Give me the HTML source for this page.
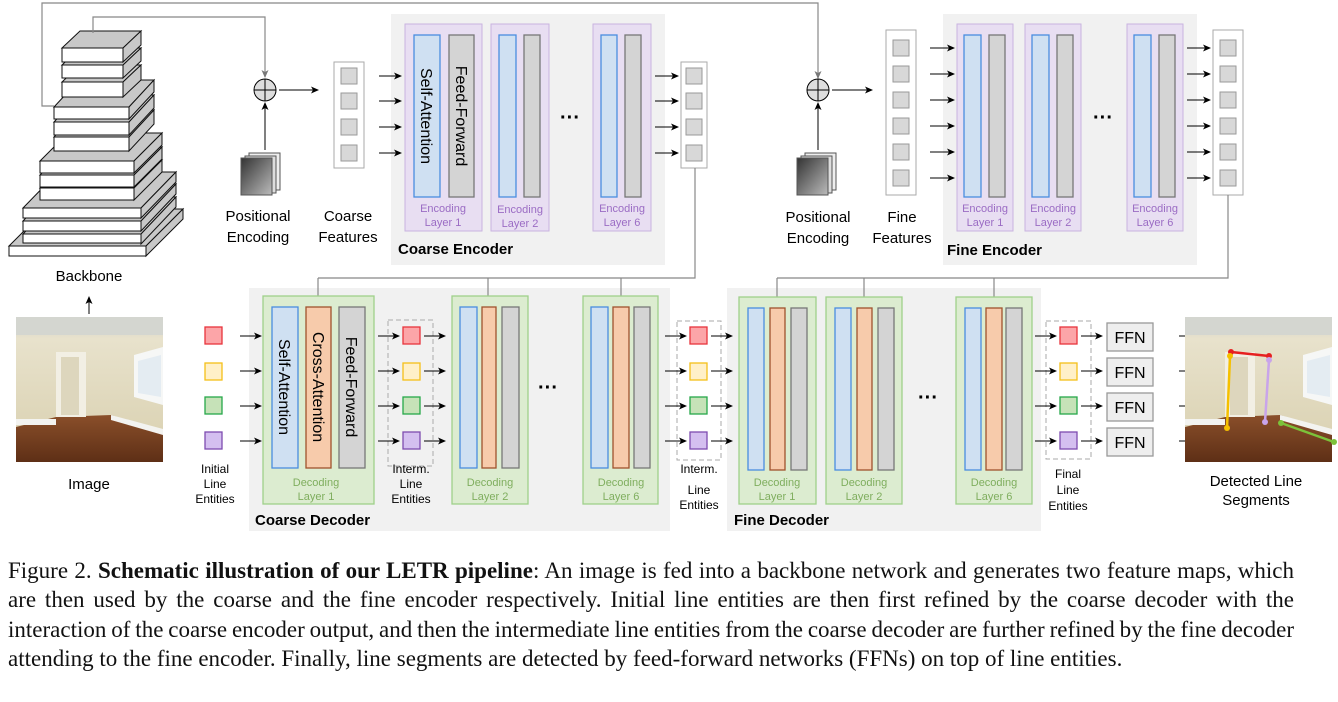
<!DOCTYPE html>
<html><head><meta charset="utf-8"><style>
body{margin:0;width:1338px;height:702px;background:#fff;overflow:hidden;position:relative;font-family:"Liberation Sans",sans-serif}
svg{position:absolute;left:0;top:0}
.cap{position:absolute;left:8px;top:556px;width:1286px;font-family:"Liberation Serif",serif;font-size:23px;line-height:29.3px;color:#111}
.cap div{text-align:justify;text-align-last:justify;white-space:nowrap}
.cap div.t{word-spacing:-1.3px}
.cap div.l{text-align-last:left}
</style></head><body>
<svg width="1338" height="560" viewBox="0 0 1338 560" font-family="Liberation Sans, sans-serif">
<defs>
<marker id="a" markerWidth="8" markerHeight="8" refX="7" refY="4" orient="auto" markerUnits="userSpaceOnUse"><path d="M0,0.5 L8,4 L0,7.5 L2,4z" fill="#000"/></marker>
<marker id="g" markerWidth="8" markerHeight="8" refX="7" refY="4" orient="auto" markerUnits="userSpaceOnUse"><path d="M0,0.5 L8,4 L0,7.5 L2,4z" fill="#777"/></marker>
<linearGradient id="pe" x1="0" y1="0" x2="1" y2="1"><stop offset="0" stop-color="#333"/><stop offset="1" stop-color="#bbb"/></linearGradient>
<linearGradient id="wall" x1="0" y1="0" x2="0" y2="1"><stop offset="0" stop-color="#cfd0c9"/><stop offset="0.15" stop-color="#e8e2cc"/><stop offset="1" stop-color="#d8cfae"/></linearGradient>
<linearGradient id="floor" x1="0" y1="0" x2="0" y2="1"><stop offset="0" stop-color="#8a4f2a"/><stop offset="1" stop-color="#5e2f16"/></linearGradient>
<g id="room">
<rect x="0" y="0" width="147" height="145" fill="url(#wall)"/>
<rect x="0" y="0" width="147" height="18" fill="#d4d6d0"/>
<polygon points="0,110 40,100 95,98 147,115 147,145 0,145" fill="url(#floor)"/>
<rect x="40" y="35" width="30" height="65" fill="#f2efe4"/>
<rect x="45" y="40" width="18" height="58" fill="#ddd6bd"/>
<polygon points="118,38 147,30 147,88 118,80" fill="#f6f7f6"/>
<polygon points="122,44 145,38 145,80 122,76" fill="#e4ecf2"/>
<rect x="0" y="102" width="40" height="6" fill="#f3f3f0"/>
<polygon points="95,98 147,112 147,118 95,103" fill="#f3f3f0"/>
</g>
</defs>

<rect x="391" y="14" width="274" height="251" fill="#f1f1f1"/>
<rect x="943" y="14" width="254" height="251" fill="#f1f1f1"/>
<rect x="249" y="288" width="421" height="243" fill="#f1f1f1"/>
<rect x="727" y="288" width="314" height="243" fill="#f1f1f1"/>

<g stroke="#111" stroke-width="1" fill="#c8c8c8">
<polygon points="9,246 46,209 183,209 146,246"/><polygon points="146,246 183,209 183,219 146,256"/><rect x="9" y="246" width="137" height="10" fill="#fff"/>
<polygon points="23,234 58,197 176,197 141,234"/><polygon points="141,234 176,197 176,207 141,244"/><rect x="23" y="234" width="118" height="9" fill="#fff"/>
<polygon points="23,221 58,184 176,184 141,221"/><polygon points="141,221 176,184 176,194 141,231"/><rect x="23" y="221" width="118" height="10" fill="#fff"/>
<polygon points="23,208 58,172 176,172 141,208"/><polygon points="141,208 176,172 176,182 141,218"/><rect x="23" y="208" width="118" height="10" fill="#fff"/>
<polygon points="40,188 68,160 162,160 134,188"/><polygon points="134,188 162,160 162,172 134,200"/><rect x="40" y="188" width="94" height="12" fill="#fff"/>
<polygon points="40,175 68,147 162,147 134,175"/><polygon points="134,175 162,147 162,159 134,187"/><rect x="40" y="175" width="94" height="12" fill="#fff"/>
<polygon points="40,161 68,133 162,133 134,161"/><polygon points="134,161 162,133 162,145 134,173"/><rect x="40" y="161" width="94" height="12" fill="#fff"/>
<polygon points="54,137 79,110 154,110 129,137"/><polygon points="129,137 154,110 154,124 129,151"/><rect x="54" y="137" width="75" height="14" fill="#fff"/>
<polygon points="54,122 79,95 154,95 129,122"/><polygon points="129,122 154,95 154,108 129,135"/><rect x="54" y="122" width="75" height="13" fill="#fff"/>
<polygon points="54,107 79,80 154,80 129,107"/><polygon points="129,107 154,80 154,92 129,119"/><rect x="54" y="107" width="75" height="12" fill="#fff"/>
<polygon points="62,82 80,65 141,65 123,82"/><polygon points="123,82 141,65 141,80 123,97"/><rect x="62" y="82" width="61" height="15" fill="#fff"/>
<polygon points="62,65 80,48 141,48 123,65"/><polygon points="123,65 141,48 141,61 123,78"/><rect x="62" y="65" width="61" height="13" fill="#fff"/>
<polygon points="62,48 80,31 141,31 123,48"/><polygon points="123,48 141,31 141,45 123,62"/><rect x="62" y="48" width="61" height="14" fill="#fff"/>
</g>
<text x="89" y="281" font-size="15" text-anchor="middle">Backbone</text>

<polyline points="54,106 42,106 42,3 818,3 818,78" fill="none" stroke="#888" stroke-width="1.2" marker-end="url(#g)"/>
<polyline points="93,33 93,17 265,17 265,77" fill="none" stroke="#888" stroke-width="1.2" marker-end="url(#g)"/>

<circle cx="265" cy="90" r="11" fill="#ddd" stroke="#000"/><path d="M254,90h22M265,79v22" stroke="#000"/>
<line x1="265" y1="150" x2="265" y2="103" stroke="#000" marker-end="url(#a)"/>
<line x1="279" y1="90" x2="318" y2="90" stroke="#000" marker-end="url(#a)"/>
<g stroke="#555"><rect x="249" y="153" width="31" height="37" fill="#eee"/><rect x="245" y="156" width="31" height="37" fill="#ddd"/><rect x="241" y="158" width="31" height="37" fill="url(#pe)"/></g>
<text x="258" y="221" font-size="15" text-anchor="middle">Positional</text><text x="258" y="242" font-size="15" text-anchor="middle">Encoding</text>
<rect x="334" y="62" width="30" height="106" fill="#fff" stroke="#aaa"/>
<g fill="#d8d8d8" stroke="#999"><rect x="341" y="68" width="16" height="16"/><rect x="341" y="93" width="16" height="16"/><rect x="341" y="119" width="16" height="16"/><rect x="341" y="145" width="16" height="16"/></g>
<text x="348" y="221" font-size="15" text-anchor="middle">Coarse</text><text x="348" y="242" font-size="15" text-anchor="middle">Features</text>
<g stroke="#000" marker-end="url(#a)"><line x1="379" y1="76" x2="401" y2="76"/><line x1="379" y1="101" x2="401" y2="101"/><line x1="379" y1="127" x2="401" y2="127"/><line x1="379" y1="153" x2="401" y2="153"/></g>

<text x="398" y="254" font-size="15" font-weight="bold">Coarse Encoder</text>
<g fill="#e8def2" stroke="#c9b3e0"><rect x="405" y="24" width="77" height="207"/><rect x="491" y="24" width="58" height="207"/><rect x="593" y="24" width="58" height="207"/></g>
<g fill="#cfe0f2" stroke="#4a8de0" stroke-width="1.3"><rect x="414" y="35" width="26" height="162"/><rect x="499" y="35" width="17" height="162"/><rect x="601" y="35" width="16" height="162"/></g>
<g fill="#d4d4d4" stroke="#777" stroke-width="1.3"><rect x="449" y="35" width="25" height="162"/><rect x="524" y="35" width="16" height="162"/><rect x="625" y="35" width="16" height="162"/></g>
<text transform="translate(421,116) rotate(90)" font-size="16" text-anchor="middle">Self-Attention</text>
<text transform="translate(456,116) rotate(90)" font-size="16" text-anchor="middle">Feed-Forward</text>
<g fill="#9b6cc4" font-size="11" text-anchor="middle"><text x="443" y="212">Encoding</text><text x="443" y="226">Layer 1</text><text x="520" y="213">Encoding</text><text x="520" y="227">Layer 2</text><text x="622" y="212">Encoding</text><text x="622" y="226">Layer 6</text></g>
<text x="570" y="124" font-size="20" text-anchor="middle" font-weight="bold">···</text>
<g stroke="#000" marker-end="url(#a)"><line x1="655" y1="76" x2="678" y2="76"/><line x1="655" y1="101" x2="678" y2="101"/><line x1="655" y1="127" x2="678" y2="127"/><line x1="655" y1="153" x2="678" y2="153"/></g>
<rect x="681" y="62" width="26" height="106" fill="#fff" stroke="#aaa"/>
<g fill="#d8d8d8" stroke="#999"><rect x="686" y="68" width="16" height="16"/><rect x="686" y="93" width="16" height="16"/><rect x="686" y="119" width="16" height="16"/><rect x="686" y="145" width="16" height="16"/></g>

<circle cx="818" cy="90" r="11" fill="#ddd" stroke="#000"/><path d="M807,90h22M818,79v22" stroke="#000"/>
<line x1="818" y1="150" x2="818" y2="103" stroke="#000" marker-end="url(#a)"/>
<line x1="832" y1="90" x2="872" y2="90" stroke="#000" marker-end="url(#a)"/>
<g stroke="#555"><rect x="805" y="153" width="31" height="37" fill="#eee"/><rect x="801" y="156" width="31" height="37" fill="#ddd"/><rect x="797" y="158" width="31" height="37" fill="url(#pe)"/></g>
<text x="818" y="222" font-size="15" text-anchor="middle">Positional</text><text x="818" y="243" font-size="15" text-anchor="middle">Encoding</text>
<rect x="886" y="30" width="30" height="165" fill="#fff" stroke="#aaa"/>
<g fill="#d8d8d8" stroke="#999"><rect x="893" y="40" width="16" height="16"/><rect x="893" y="66" width="16" height="16"/><rect x="893" y="92" width="16" height="16"/><rect x="893" y="118" width="16" height="16"/><rect x="893" y="144" width="16" height="16"/><rect x="893" y="170" width="16" height="16"/></g>
<text x="902" y="222" font-size="15" text-anchor="middle">Fine</text><text x="902" y="243" font-size="15" text-anchor="middle">Features</text>
<g stroke="#000" marker-end="url(#a)"><line x1="930" y1="48" x2="954" y2="48"/><line x1="930" y1="74" x2="954" y2="74"/><line x1="930" y1="100" x2="954" y2="100"/><line x1="930" y1="126" x2="954" y2="126"/><line x1="930" y1="152" x2="954" y2="152"/><line x1="930" y1="178" x2="954" y2="178"/></g>
<text x="947" y="255" font-size="15" font-weight="bold">Fine Encoder</text>
<g fill="#e8def2" stroke="#c9b3e0"><rect x="957" y="24" width="56" height="207"/><rect x="1025" y="24" width="56" height="207"/><rect x="1127" y="24" width="56" height="207"/></g>
<g fill="#cfe0f2" stroke="#4a8de0" stroke-width="1.3"><rect x="964" y="35" width="17" height="162"/><rect x="1032" y="35" width="17" height="162"/><rect x="1134" y="35" width="17" height="162"/></g>
<g fill="#d4d4d4" stroke="#777" stroke-width="1.3"><rect x="989" y="35" width="16" height="162"/><rect x="1057" y="35" width="16" height="162"/><rect x="1159" y="35" width="16" height="162"/></g>
<g fill="#9b6cc4" font-size="11" text-anchor="middle"><text x="985" y="212">Encoding</text><text x="985" y="226">Layer 1</text><text x="1053" y="212">Encoding</text><text x="1053" y="226">Layer 2</text><text x="1155" y="212">Encoding</text><text x="1155" y="226">Layer 6</text></g>
<text x="1103" y="124" font-size="20" text-anchor="middle" font-weight="bold">···</text>
<g stroke="#000" marker-end="url(#a)"><line x1="1187" y1="48" x2="1210" y2="48"/><line x1="1187" y1="74" x2="1210" y2="74"/><line x1="1187" y1="100" x2="1210" y2="100"/><line x1="1187" y1="126" x2="1210" y2="126"/><line x1="1187" y1="152" x2="1210" y2="152"/><line x1="1187" y1="178" x2="1210" y2="178"/></g>
<rect x="1213" y="30" width="30" height="165" fill="#fff" stroke="#aaa"/>
<g fill="#d8d8d8" stroke="#999"><rect x="1220" y="40" width="16" height="16"/><rect x="1220" y="66" width="16" height="16"/><rect x="1220" y="92" width="16" height="16"/><rect x="1220" y="118" width="16" height="16"/><rect x="1220" y="144" width="16" height="16"/><rect x="1220" y="170" width="16" height="16"/></g>

<text x="255" y="525" font-size="15" font-weight="bold">Coarse Decoder</text>
<text x="734" y="525" font-size="15" font-weight="bold">Fine Decoder</text>

<g fill="none" stroke="#888" stroke-width="1.2">
<polyline points="695,168 695,278 318,278"/><polyline points="1228,195 1228,278 777,278"/>
</g>
<g stroke="#888" stroke-width="1.2" marker-end="url(#g)"><line x1="318" y1="278" x2="318" y2="306"/><line x1="488" y1="278" x2="488" y2="306"/><line x1="621" y1="278" x2="621" y2="306"/><line x1="777" y1="278" x2="777" y2="306"/><line x1="864" y1="278" x2="864" y2="306"/><line x1="994" y1="278" x2="994" y2="306"/></g>

<g fill="#dcecd0" stroke="#9fd08a" stroke-width="1.3">
<rect x="263" y="296" width="111" height="208"/><rect x="452" y="296" width="76" height="208"/><rect x="583" y="296" width="75" height="208"/>
<rect x="739" y="297" width="77" height="207"/><rect x="826" y="297" width="76" height="207"/><rect x="956" y="297" width="76" height="207"/></g>
<g fill="#cfe0f2" stroke="#4a8de0" stroke-width="1.3">
<rect x="272" y="307" width="26" height="161"/><rect x="460" y="307" width="17" height="161"/><rect x="591" y="307" width="17" height="161"/>
<rect x="748" y="308" width="16" height="162"/><rect x="835" y="308" width="16" height="162"/><rect x="965" y="308" width="16" height="162"/></g>
<g fill="#f7cbab" stroke="#a0522d" stroke-width="1.3">
<rect x="306" y="307" width="25" height="161"/><rect x="482" y="307" width="14" height="161"/><rect x="613" y="307" width="16" height="161"/>
<rect x="770" y="308" width="15" height="162"/><rect x="857" y="308" width="15" height="162"/><rect x="986" y="308" width="16" height="162"/></g>
<g fill="#d4d4d4" stroke="#777" stroke-width="1.3">
<rect x="339" y="307" width="26" height="161"/><rect x="502" y="307" width="17" height="161"/><rect x="634" y="307" width="16" height="161"/>
<rect x="791" y="308" width="16" height="162"/><rect x="878" y="308" width="16" height="162"/><rect x="1006" y="308" width="16" height="162"/></g>
<text transform="translate(279,387) rotate(90)" font-size="16" text-anchor="middle">Self-Attention</text>
<text transform="translate(313,387) rotate(90)" font-size="16" text-anchor="middle">Cross-Attention</text>
<text transform="translate(346,387) rotate(90)" font-size="16" text-anchor="middle">Feed-Forward</text>
<g fill="#7fae5e" font-size="11" text-anchor="middle">
<text x="316" y="486">Decoding</text><text x="316" y="500">Layer 1</text>
<text x="490" y="486">Decoding</text><text x="490" y="500">Layer 2</text>
<text x="621" y="486">Decoding</text><text x="621" y="500">Layer 6</text>
<text x="777" y="486">Decoding</text><text x="777" y="500">Layer 1</text>
<text x="864" y="486">Decoding</text><text x="864" y="500">Layer 2</text>
<text x="994" y="486">Decoding</text><text x="994" y="500">Layer 6</text></g>
<text x="548" y="394" font-size="20" text-anchor="middle" font-weight="bold">···</text>
<text x="928" y="404" font-size="20" text-anchor="middle" font-weight="bold">···</text>

<g fill="none" stroke="#aaa" stroke-dasharray="5,3"><rect x="388" y="320" width="45" height="146"/><rect x="677" y="321" width="44" height="139"/><rect x="1046" y="321" width="45" height="138"/></g>

<g stroke-width="1.3">
<g id="e1"><rect x="205" y="327" width="17" height="17" fill="#fca5a8" stroke="#e8343c"/><rect x="205" y="363" width="17" height="17" fill="#fff0c8" stroke="#f5c018"/><rect x="205" y="397" width="17" height="17" fill="#c6e2b8" stroke="#27a84a"/><rect x="205" y="432" width="17" height="17" fill="#d4bff0" stroke="#7e4cb0"/></g>
<use href="#e1" x="198"/><use href="#e1" x="485"/><use href="#e1" x="855"/>
</g>
<g fill="#000" font-size="12" text-anchor="middle">
<text x="215" y="473">Initial</text><text x="215" y="488">Line</text><text x="215" y="503">Entities</text>
<text x="411" y="473">Interm.</text><text x="411" y="488">Line</text><text x="411" y="503">Entities</text>
<text x="699" y="473">Interm.</text><text x="699" y="494">Line</text><text x="699" y="509">Entities</text>
<text x="1068" y="478">Final</text><text x="1068" y="494">Line</text><text x="1068" y="510">Entities</text></g>

<g stroke="#000" marker-end="url(#a)">
<g id="ar"><line x1="240" y1="336" x2="261" y2="336"/><line x1="240" y1="371" x2="261" y2="371"/><line x1="240" y1="406" x2="261" y2="406"/><line x1="240" y1="441" x2="261" y2="441"/></g>
<use href="#ar" x="138"/><use href="#ar" x="184"/><use href="#ar" x="425"/><use href="#ar" x="471"/><use href="#ar" x="795"/><use href="#ar" x="841"/><use href="#ar" x="878"/><use href="#ar" x="939"/>
</g>
<line x1="89" y1="314" x2="89" y2="297" stroke="#000" marker-end="url(#a)"/>

<g fill="#eee" stroke="#999" stroke-width="1.3"><rect x="1107" y="323" width="46" height="28"/><rect x="1107" y="358" width="46" height="28"/><rect x="1107" y="393" width="46" height="28"/><rect x="1107" y="428" width="46" height="28"/></g>
<g font-size="16" text-anchor="middle"><text x="1130" y="343">FFN</text><text x="1130" y="378">FFN</text><text x="1130" y="413">FFN</text><text x="1130" y="448">FFN</text></g>

<use href="#room" x="16" y="317"/>
<g transform="translate(1185,317)"><use href="#room"/></g>
<g stroke-width="2.5">
<line x1="1231" y1="352" x2="1269" y2="356" stroke="#e62020"/>
<line x1="1230" y1="356" x2="1227" y2="428" stroke="#f5c000"/>
<line x1="1269" y1="360" x2="1265" y2="422" stroke="#c9a4ea"/>
<line x1="1281" y1="423" x2="1334" y2="442" stroke="#7cc23a"/></g>
<g><circle cx="1231" cy="352" r="3" fill="#e62020"/><circle cx="1269" cy="356" r="3" fill="#e62020"/><circle cx="1230" cy="356" r="3" fill="#f5c000"/><circle cx="1227" cy="428" r="3" fill="#f5c000"/><circle cx="1269" cy="360" r="3" fill="#c9a4ea"/><circle cx="1265" cy="422" r="3" fill="#c9a4ea"/><circle cx="1281" cy="423" r="3" fill="#7cc23a"/><circle cx="1334" cy="442" r="3" fill="#7cc23a"/></g>
<text x="89" y="489" font-size="15" text-anchor="middle">Image</text>
<text x="1256" y="486" font-size="15" text-anchor="middle">Detected Line</text>
<text x="1256" y="505" font-size="15" text-anchor="middle">Segments</text>
</svg>
<div class="cap">
<div>Figure 2. <b>Schematic illustration of our LETR pipeline</b>: An image is fed into a backbone network and generates two feature maps, which</div>
<div>are then used by the coarse and the fine encoder respectively. Initial line entities are then first refined by the coarse decoder with the</div>
<div class="t">interaction of the coarse encoder output, and then the intermediate line entities from the coarse decoder are further refined by the fine decoder</div>
<div class="l">attending to the fine encoder. Finally, line segments are detected by feed-forward networks (FFNs) on top of line entities.</div>
</div>
</body></html>
